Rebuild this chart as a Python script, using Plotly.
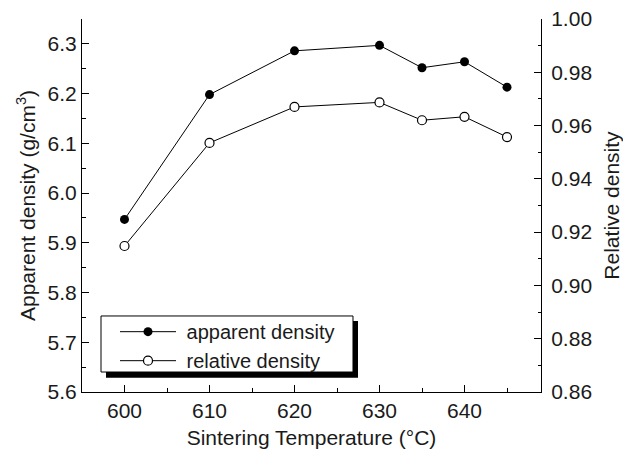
import plotly.graph_objects as go

temps = [600, 610, 620, 630, 635, 640, 645]
apparent = [5.947, 6.198, 6.286, 6.297, 6.252, 6.264, 6.213]
relative = [0.9148, 0.9535, 0.9670, 0.9687, 0.9620, 0.9633, 0.9557]

FONT = "Liberation Sans, Arial, Helvetica, sans-serif"
TXT = "#1a1a1a"

fig = go.Figure()
fig.add_trace(go.Scatter(
    x=temps, y=apparent, mode="lines+markers", name="\u00a0apparent density",
    line=dict(color="black", width=1),
    marker=dict(symbol="circle", size=9, color="black"),
    xaxis="x", yaxis="y"))
fig.add_trace(go.Scatter(
    x=temps, y=relative, mode="lines+markers", name="\u00a0relative density",
    line=dict(color="black", width=1),
    marker=dict(symbol="circle", size=9, color="white", line=dict(color="black", width=1.2)),
    xaxis="x", yaxis="y2"))

axcommon = dict(showline=True, linecolor="black", linewidth=1, showgrid=False, zeroline=False,
                ticks="inside", tickcolor="black", tickwidth=1, ticklen=7, automargin=False)
tickfont = dict(family=FONT, size=21, color=TXT)
titlefont = dict(family=FONT, size=21, color=TXT)

fig.update_layout(
    width=623, height=449,
    margin=dict(l=82, r=82, t=19, b=57, pad=0),
    paper_bgcolor="white", plot_bgcolor="white",
    font=dict(family=FONT, size=21, color=TXT),
    xaxis=dict(range=[595, 649], tick0=600, dtick=10, tickfont=tickfont, **axcommon,
               minor=dict(dtick=5, tick0=600, ticks="inside", ticklen=4, tickcolor="black"),
               title=dict(text="Sintering Temperature (°C)", font=titlefont, standoff=9)),
    xaxis2=dict(range=[595, 649], overlaying="x", side="top", anchor="y", showticklabels=False,
                tick0=600, dtick=5, **axcommon,
                minor=dict(dtick=2.5, tick0=600, ticks="inside", ticklen=4, tickcolor="black")),
    yaxis=dict(range=[5.6, 6.35], tick0=5.6, dtick=0.1, tickformat=".1f", tickfont=tickfont, **axcommon,
               minor=dict(dtick=0.05, tick0=5.6, ticks="inside", ticklen=4, tickcolor="black"),
               title=dict(text="Apparent density (g/cm<sup>3</sup>)", font=titlefont, standoff=6)),
    yaxis2=dict(range=[0.86, 1.00], tick0=0.86, dtick=0.02, tickformat=".2f", overlaying="y", side="right",
                anchor="x", tickfont=tickfont, ticklabelstandoff=5, **axcommon,
                minor=dict(dtick=0.01, tick0=0.86, ticks="inside", ticklen=3, tickcolor="black"),
                title=dict(text="Relative density", font=titlefont, standoff=12)),
    legend=dict(x=0.0719, y=0.214, xanchor="left", yanchor="top",
                bgcolor="rgba(0,0,0,0)", borderwidth=0,
                font=dict(family=FONT, size=20, color=TXT),
                itemwidth=56, tracegroupgap=0),
    showlegend=True,
)

# legend frame with drop shadow
fig.add_shape(type="rect", xref="paper", yref="paper",
              x0=0.0523, x1=0.6013, y0=0.0383, y1=0.1903,
              fillcolor="black", line=dict(width=0), layer="above")
fig.add_shape(type="rect", xref="paper", yref="paper",
              x0=0.0414, x1=0.5904, y0=0.0536, y1=0.2038,
              fillcolor="white", line=dict(color="black", width=1), layer="above")

fig.write_html("out.html")
